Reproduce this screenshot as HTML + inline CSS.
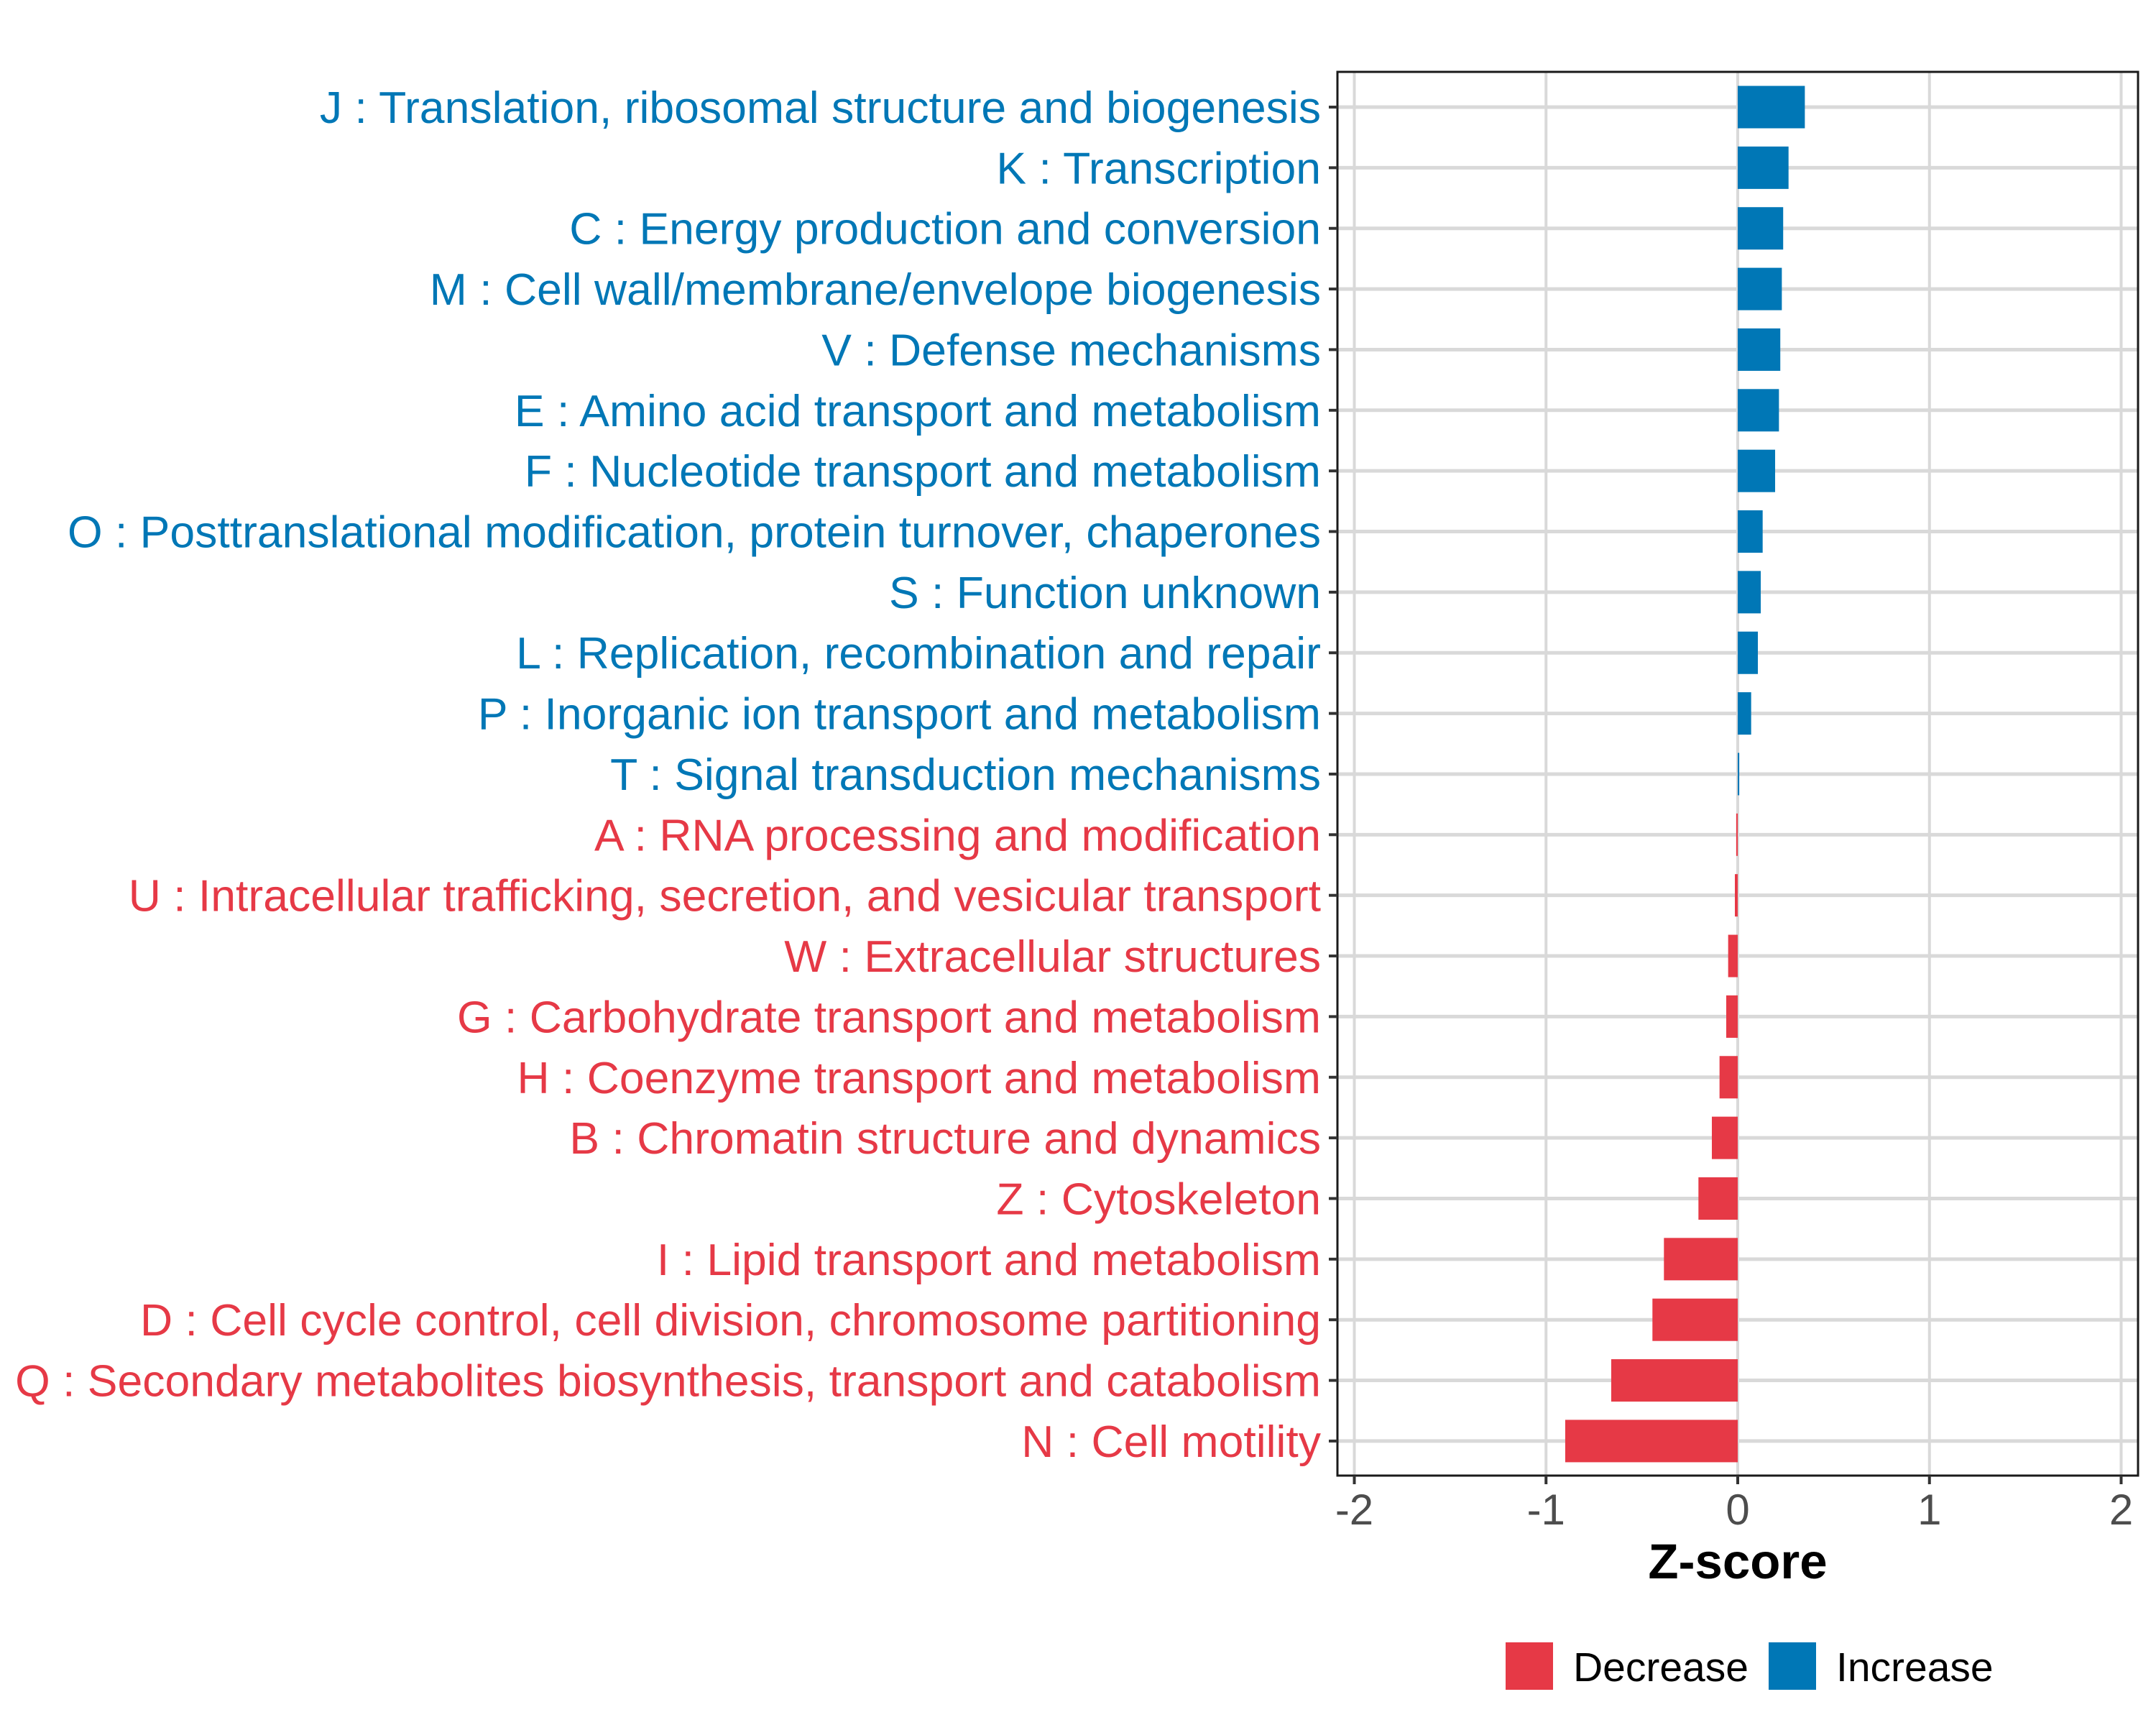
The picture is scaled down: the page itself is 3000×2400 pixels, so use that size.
<!DOCTYPE html>
<html><head><meta charset="utf-8"><style>
html,body{margin:0;padding:0;background:#fff;}
svg{display:block;font-family:"Liberation Sans",Arial,sans-serif;}
</style></head><body>
<svg id="chart" width="3000" height="2400" viewBox="0 0 3000 2400" xmlns="http://www.w3.org/2000/svg">
<rect x="0" y="0" width="3000" height="2400" fill="#fff"/>
<g id="grid"></g>
<g id="bars"></g>
<rect x="1861" y="100" width="1114" height="1953" fill="none" stroke="#1a1a1a" stroke-width="3"/>
<g id="ylabels"></g>
<g id="xticks"></g>
<text x="2418" y="2196" text-anchor="middle" font-size="69" font-weight="bold" fill="#000">Z-score</text>
<g>
<rect x="2095" y="2285" width="66" height="66" fill="#E63946"/>
<text x="2189" y="2339" font-size="57" fill="#000">Decrease</text>
<rect x="2461" y="2285" width="66" height="66" fill="#0077B6"/>
<text x="2555" y="2339" font-size="57" fill="#000">Increase</text>
</g>
</svg>
<script>
const categories = [
"J : Translation, ribosomal structure and biogenesis",
"K : Transcription",
"C : Energy production and conversion",
"M : Cell wall/membrane/envelope biogenesis",
"V : Defense mechanisms",
"E : Amino acid transport and metabolism",
"F : Nucleotide transport and metabolism",
"O : Posttranslational modification, protein turnover, chaperones",
"S : Function unknown",
"L : Replication, recombination and repair",
"P : Inorganic ion transport and metabolism",
"T : Signal transduction mechanisms",
"A : RNA processing and modification",
"U : Intracellular trafficking, secretion, and vesicular transport",
"W : Extracellular structures",
"G : Carbohydrate transport and metabolism",
"H : Coenzyme transport and metabolism",
"B : Chromatin structure and dynamics",
"Z : Cytoskeleton",
"I : Lipid transport and metabolism",
"D : Cell cycle control, cell division, chromosome partitioning",
"Q : Secondary metabolites biosynthesis, transport and catabolism",
"N : Cell motility"
];
const zscores = [0.35,0.265,0.237,0.23,0.222,0.215,0.195,0.13,0.12,0.105,0.07,0.008,-0.008,-0.015,-0.05,-0.06,-0.095,-0.135,-0.205,-0.385,-0.445,-0.66,-0.9];
const xTicks = [-2,-1,0,1,2];
const xTickLabels = ["-2","-1","0","1","2"];

const NS = "http://www.w3.org/2000/svg";
const X0 = 2418, UNIT = 266.75;
const xScale = v => X0 + v * UNIT;
const ROW0 = 149, ROWSTEP = 84.36, BARH = 59;
const yScale = i => ROW0 + i * ROWSTEP;
const PL = 1861, PR = 2975, PT = 100, PB = 2053;
function mk(tag, attrs, parent){ const e=document.createElementNS(NS,tag); for(const k in attrs) e.setAttribute(k,attrs[k]); parent.appendChild(e); return e; }
const grid=document.getElementById('grid'), bars=document.getElementById('bars'), yl=document.getElementById('ylabels'), xt=document.getElementById('xticks');

xTicks.forEach((t,i)=>{
  const x=xScale(t);
  const g=mk('line',{x1:x,x2:x,y1:PT,y2:PB,stroke:'#d9d9d9','stroke-width':4},grid);
  
  
  const tk=mk('line',{x1:x,x2:x,y1:PB,y2:PB+12,stroke:'#333','stroke-width':4},xt);
  
  
  const tl=mk('text',{x:x,y:2121,'text-anchor':'middle','font-size':60,fill:'#4d4d4d'},xt);
  tl.textContent=xTickLabels[i];
  
  
});
categories.forEach((c,i)=>{
  const y=yScale(i);
  const g=mk('line',{x1:PL,x2:PR,y1:y,y2:y,stroke:'#d9d9d9','stroke-width':5},grid);
  
  
  const v=zscores[i];
  const col = v>=0 ? '#0077B6' : '#E63946';
  const x1=Math.min(xScale(0),xScale(v)), w=Math.max(Math.abs(xScale(v)-xScale(0)),2);
  const b=mk('rect',{x:x1,y:y-BARH/2,width:w,height:BARH,fill:col},bars);
  
  
  const tk=mk('line',{x1:PL-12,x2:PL,y1:y,y2:y,stroke:'#333','stroke-width':4},yl);
  
  
  const t=mk('text',{x:1838,y:y+22,'text-anchor':'end','font-size':62.5,fill:col},yl);
  t.textContent=c;
  
  
});
</script>
</body></html>
